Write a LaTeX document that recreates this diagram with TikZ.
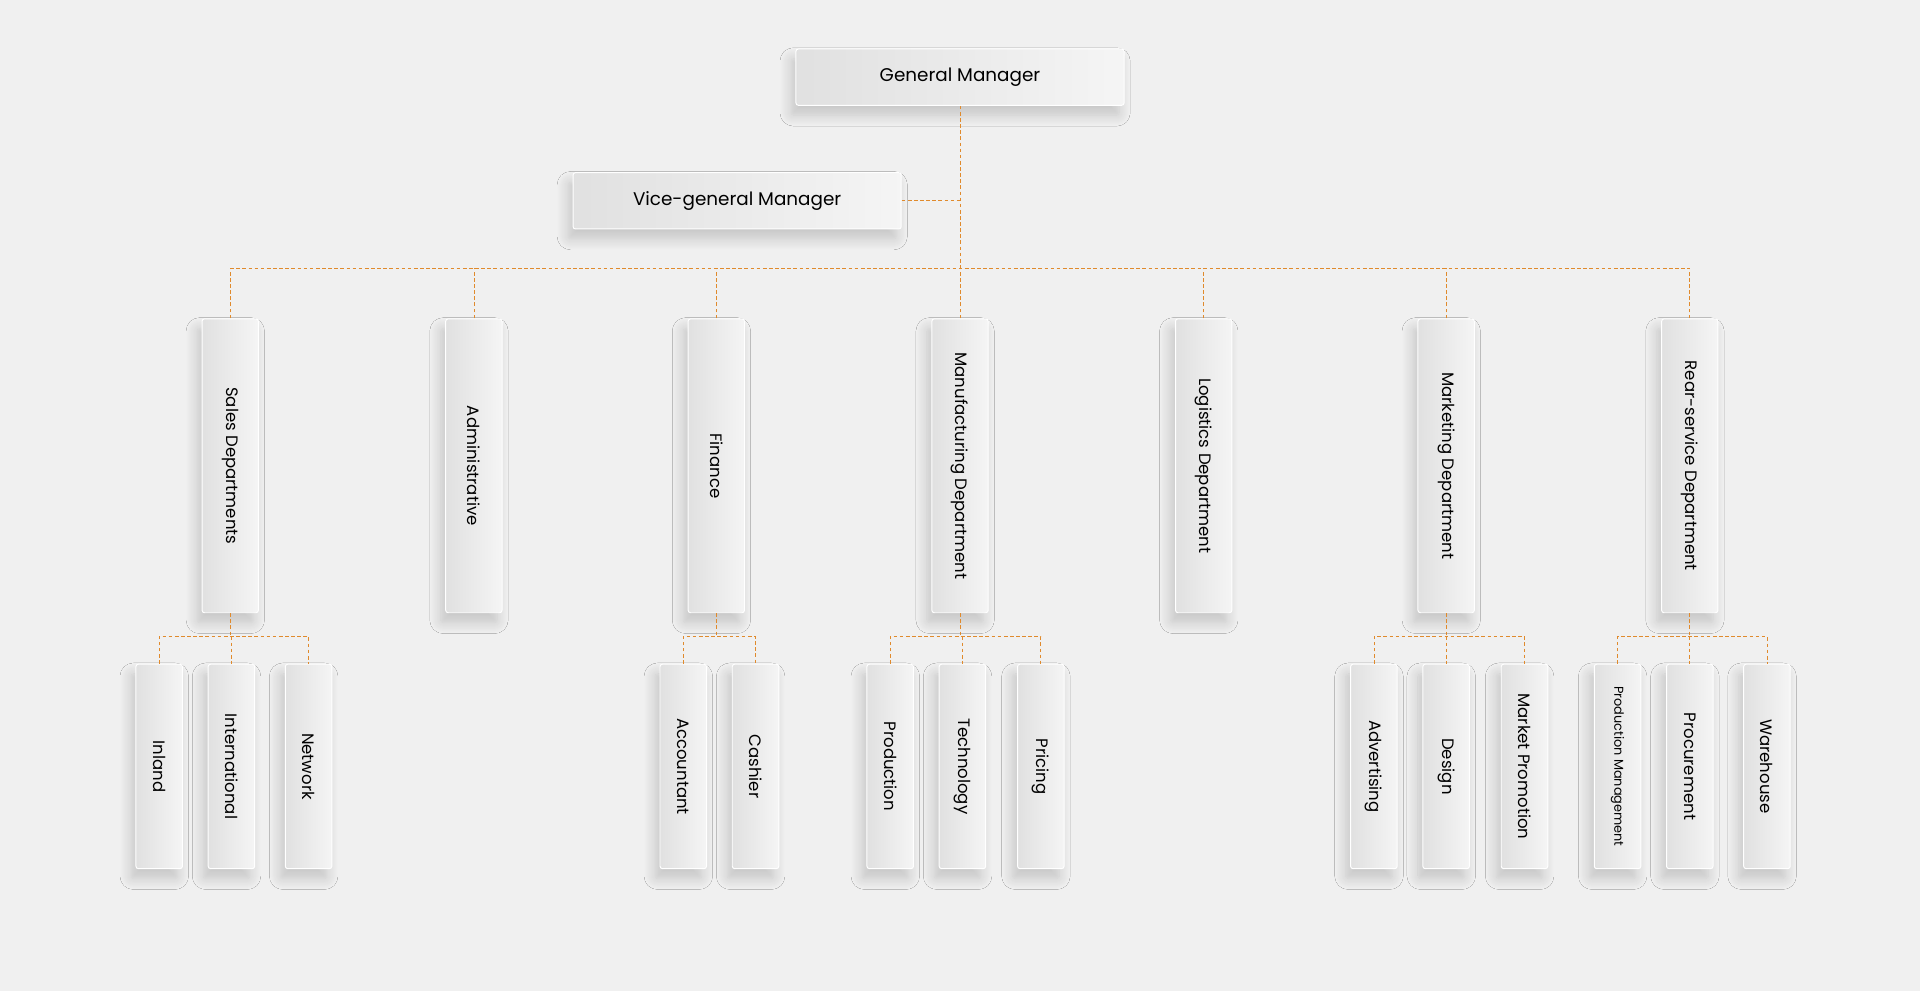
\documentclass[tikz,border=0pt]{standalone}
\usepackage{fontspec}
\setmainfont{Poppins}
\usetikzlibrary{positioning,shadows.blur,calc}
\definecolor{bg}{HTML}{F0F0F0}
\definecolor{linkc}{HTML}{E08A2C}
\tikzset{
  box/.style={draw=white,line width=0.8pt,rounded corners=2pt,left color=black!12,right color=black!4,
    blur shadow={shadow xshift=-4pt,shadow yshift=-8pt,shadow blur radius=9pt,shadow blur steps=12,shadow opacity=18},
    inner sep=0pt,font=\fontsize{13.5}{15}\selectfont},
  topbox/.style={box,minimum width=268pt,minimum height=46pt,font=\fontsize{15}{17}\selectfont},
  dept/.style={box,minimum width=46pt,minimum height=240pt,anchor=north},
  sub/.style={box,minimum width=38pt,minimum height=167pt,anchor=north},
  link/.style={draw=linkc,densely dashed,line width=0.6pt}
}
\begin{document}
\begin{tikzpicture}[x=1pt,y=-1pt]
\fill[bg] (0,0) rectangle (1568,809);
\useasboundingbox (0,0) rectangle (1568,809);

% Managers
\node[topbox] (gm) at (784,63) {General Manager};
\node[topbox] (vgm) at (602,164) {Vice-general Manager};
\coordinate (bus) at (784,219);

% Departments
\foreach \name/\x/\txt in {sales/188/Sales Departments,admin/387/Administrative,fin/585/Finance,
    manu/784/Manufacturing Department,logi/983/Logistics Department,mark/1181/Marketing Department,
    rear/1380/Rear-service Department}{
  \node[dept] (\name) at (\x,260) {\rotatebox{-90}{\txt}};
  \draw[link] (\name.north) -- (\name.north |- bus);
}

% Sub units
\foreach \name/\x/\txt in {inland/130/Inland,intl/189/International,net/252/Network,
    acc/558/Accountant,cash/617/Cashier,
    prod/727/Production,tech/786/Technology,pric/850/Pricing,
    adv/1122/Advertising,des/1181/Design,prom/1245/Market Promotion,
    proc/1380/Procurement,ware/1443/Warehouse}{
  \node[sub] (\name) at (\x,542) {\rotatebox{-90}{\txt}};
}
\node[sub] (pman) at (1321,542) {\rotatebox{-90}{\fontsize{10.5}{12}\selectfont Production Management}};

% Connectors
\draw[link] (gm.south) -- (bus);
\draw[link] (vgm.east) -- (vgm.east -| gm.south);
\draw[link] (sales.north |- bus) -- (rear.north |- bus);

\foreach \up/\first/\last in {sales/inland/net,fin/acc/cash,manu/prod/pric,
    mark/adv/prom,rear/pman/ware}{
  \coordinate (\up-bus) at ($(\up.south)+(0,19)$);
  \draw[link] (\up.south) -- (\up-bus);
  \draw[link] (\first.north) -- (\first.north |- \up-bus) -- (\last.north |- \up-bus) -- (\last.north);
}
\foreach \n/\up in {intl/sales,tech/manu,des/mark,proc/rear}{
  \draw[link] (\n.north |- \up-bus) -- (\n.north);
}
\end{tikzpicture}
\end{document}
